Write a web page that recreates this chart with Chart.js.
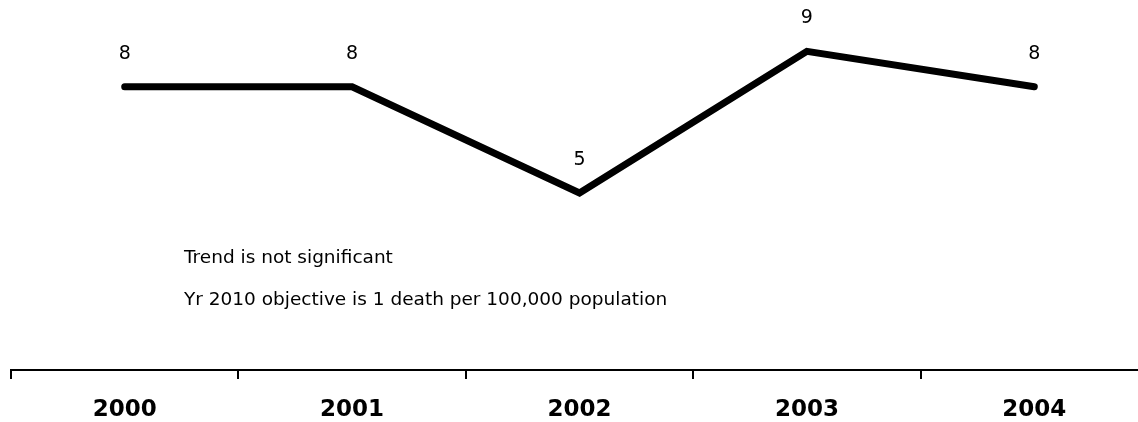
<!DOCTYPE html>
<html><head><meta charset="utf-8">
<script src="https://cdn.jsdelivr.net/npm/chart.js@4/dist/chart.umd.min.js"></script>
<style>
html,body{margin:0;padding:0;background:#fff;overflow:hidden;}
#wrap{position:relative;width:1160px;height:422px;}
</style></head><body>
<div id="wrap"><canvas id="c"></canvas></div>
<script>
const years = ['2000', '2001', '2002', '2003', '2004'];
const deathRates = [8, 8, 5, 9, 8];
const notes = ['Trend is not significant', 'Yr 2010 objective is 1 death per 100,000 population'];

const FONT = "'DejaVu Sans', Verdana, sans-serif";

const labelPlugin = {
  id: 'labelPlugin',
  afterDatasetsDraw(chart) {
    const ctx = chart.ctx;
    const meta = chart.getDatasetMeta(0);
    ctx.save();
    ctx.fillStyle = '#000';
    ctx.font = '19px ' + FONT;
    ctx.textAlign = 'center';
    ctx.textBaseline = 'middle';
    meta.data.forEach((pt, i) => {
      ctx.fillText(String(deathRates[i]), pt.x, pt.y - 33);
    });
    ctx.font = '18.5px ' + FONT;
    ctx.textAlign = 'left';
    const noteY = [258, 300];
    notes.forEach((t, i) => ctx.fillText(t, 184, noteY[i]));
    ctx.restore();
  }
};

new Chart(document.getElementById('c'), {
  type: 'line',
  data: {
    labels: years,
    datasets: [{
      data: deathRates,
      borderColor: '#000',
      borderWidth: 7,
      borderCapStyle: 'round',
      borderJoinStyle: 'miter',
      pointRadius: 0,
      pointHoverRadius: 0,
      tension: 0,
      fill: false
    }]
  },
  options: {
    responsive: true,
    maintainAspectRatio: false,
    animation: false,
    layout: { padding: { top: 16, left: 11, right: 12, bottom: 0 } },
    plugins: { legend: { display: false }, tooltip: { enabled: false } },
    scales: {
      x: {
        offset: true,
        grid: { display: true, offset: true, drawOnChartArea: false, drawTicks: true, tickLength: 9, color: '#000', lineWidth: 2 },
        border: { display: true, color: '#000', width: 2 },
        ticks: { color: '#000', font: { family: FONT, size: 23, weight: 'bold' }, padding: 17, maxRotation: 0, autoSkip: false },
        afterFit: s => { s.height = 52; }
      },
      y: {
        display: false,
        min: 0,
        max: 10
      }
    }
  },
  plugins: [labelPlugin]
});
</script>
</body></html>
